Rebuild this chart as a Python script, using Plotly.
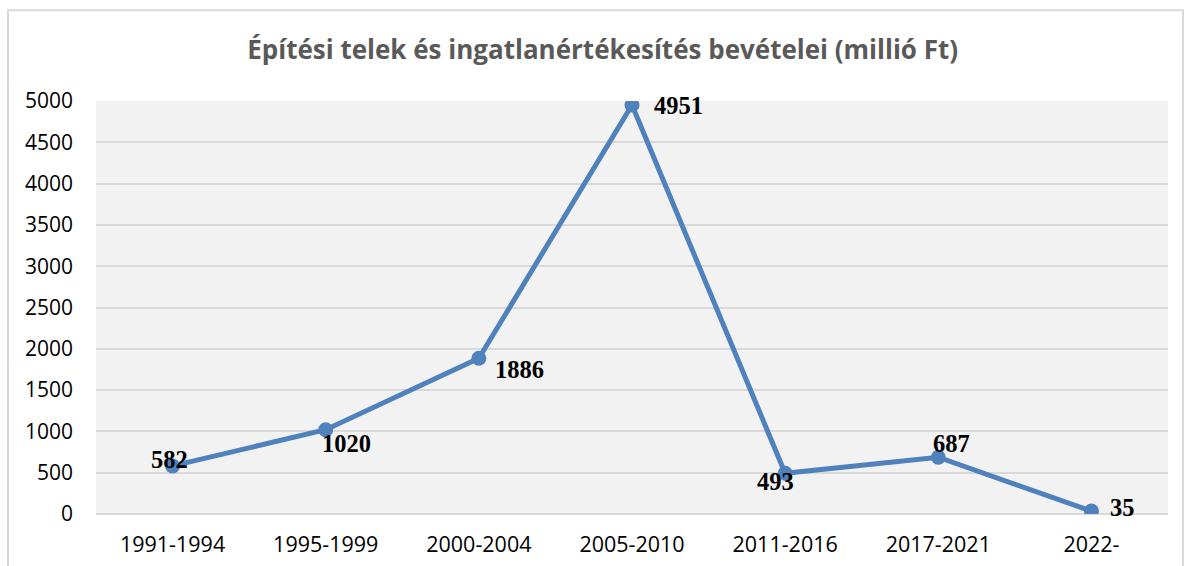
import plotly.graph_objects as go

categories = ["1991-1994", "1995-1999", "2000-2004", "2005-2010", "2011-2016", "2017-2021", "2022-"]
values = [582, 1020, 1886, 4951, 493, 687, 35]
y_ticks = [0, 500, 1000, 1500, 2000, 2500, 3000, 3500, 4000, 4500, 5000]
title_text = "Építési telek és ingatlanértékesítés bevételei (millió Ft)"

# label offsets (pixels) per point
label_shift_x = [-3, 21, 41, 46, -10, 13, 31]
label_shift_y = [6, -14, -11, 0, -8, 14, 4]

fig = go.Figure()
fig.add_trace(go.Scatter(
    x=categories, y=values, mode="lines+markers",
    line=dict(color="#4F81BD", width=5),
    marker=dict(color="#4F81BD", size=15),
    hoverinfo="skip", showlegend=False,
))

for c, v, dx, dy in zip(categories, values, label_shift_x, label_shift_y):
    fig.add_annotation(x=c, y=v, text=str(v), showarrow=False,
                       xshift=dx, yshift=dy,
                       font=dict(family="Liberation Serif", size=24.5, color="#000000", weight="bold"))

# outer chart border
fig.add_shape(type="rect", xref="paper", yref="paper",
              x0=-0.0821, x1=1.014, y0=-0.2, y1=1.220,
              line=dict(color="#d9d9d9", width=2), fillcolor="rgba(0,0,0,0)", layer="below")

fig.update_layout(
    width=1184, height=566,
    margin=dict(l=96, r=16, t=101, b=52),
    paper_bgcolor="white",
    plot_bgcolor="#F2F2F2",
    title=dict(text=title_text, x=0.509, xanchor="center", y=0.912, yanchor="middle",
               font=dict(family="Open Sans", size=26, color="#595959", weight="bold")),
    xaxis=dict(type="category", range=[-0.5, 6.5], showgrid=False, zeroline=False, automargin=False,
               showline=False, ticks="", tickfont=dict(family="Open Sans", size=21.5, color="#000000"),
               ticklabelstandoff=15),
    yaxis=dict(range=[0, 5000], tickvals=y_ticks, showgrid=True, gridcolor="#D9D9D9", gridwidth=2,
               automargin=False,
               zeroline=True, zerolinecolor="#D9D9D9", zerolinewidth=2, showline=False, ticks="",
               tickfont=dict(family="Open Sans", size=21, color="#000000"),
               ticklabelstandoff=22),
)

fig.write_html("out.html", config={"displayModeBar": False},
               post_script="document.body.style.margin='0px';document.body.style.overflow='hidden';")
